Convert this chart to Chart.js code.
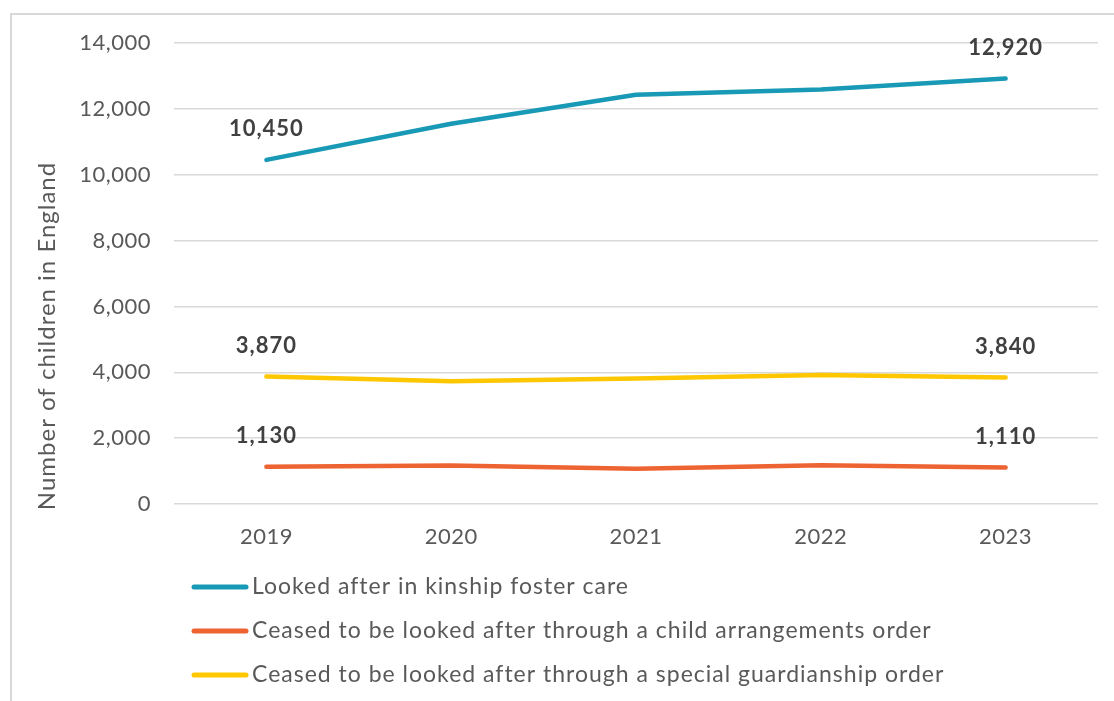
<!DOCTYPE html>
<html>
<head>
<meta charset="utf-8">
<script src="https://cdn.jsdelivr.net/npm/chart.js@4/dist/chart.umd.min.js"></script>
<style>
  html, body { margin: 0; padding: 0; background: #ffffff; }
  #wrap { width: 1114px; height: 701px; }
</style>
</head>
<body>
<div id="wrap"><canvas id="c" width="1114" height="701"></canvas></div>
<script>
// Children in England by kinship route, 2019–2023
const years = ['2019', '2020', '2021', '2022', '2023'];
const kinshipFosterCare = [10450, 11550, 12430, 12590, 12920];
const childArrangementsOrder = [1130, 1170, 1070, 1180, 1110];
const specialGuardianshipOrder = [3870, 3730, 3810, 3920, 3840];
const seriesNames = [
  'Looked after in kinship foster care',
  'Ceased to be looked after through a child arrangements order',
  'Ceased to be looked after through a special guardianship order'
];
const yTicks = [0, 2000, 4000, 6000, 8000, 10000, 12000, 14000];
const yTitle = 'Number of children in England';

const FONT = 'Lato, "Open Sans", sans-serif';
const GREY = '#595959';
const COLORS = ['#1899B6', '#EE6332', '#FFC700'];
const fmt = v => v.toLocaleString('en-GB');

// Frame around the chart (top and left edges visible); wider tracking for tick text
const framePlugin = {
  id: 'frame',
  beforeDraw(chart) {
    const ctx = chart.ctx;
    ctx.save();
    ctx.strokeStyle = '#d9d9d9';
    ctx.lineWidth = 2;
    ctx.beginPath();
    ctx.moveTo(11, chart.height);
    ctx.lineTo(11, 14);
    ctx.lineTo(chart.width, 14);
    ctx.stroke();
    ctx.restore();
    ctx.letterSpacing = '0.5px';
  }
};

// Value labels on first and last point of every series
const endLabels = {
  id: 'endLabels',
  afterDatasetsDraw(chart) {
    const ctx = chart.ctx;
    ctx.save();
    ctx.font = 'bold 22px ' + FONT;
    ctx.letterSpacing = '1px';
    ctx.fillStyle = '#404040';
    ctx.textAlign = 'center';
    ctx.textBaseline = 'middle';
    chart.data.datasets.forEach((ds, di) => {
      const meta = chart.getDatasetMeta(di);
      [0, ds.data.length - 1].forEach(i => {
        const pt = meta.data[i];
        ctx.fillText(fmt(ds.data[i]), pt.x, pt.y - 31);
      });
    });
    ctx.restore();
  }
};

// Y axis title and stacked legend below the axis
const extras = {
  id: 'extras',
  afterDraw(chart) {
    const ctx = chart.ctx;
    ctx.save();
    ctx.font = '24px ' + FONT;
    ctx.letterSpacing = '1px';
    ctx.fillStyle = GREY;
    ctx.textAlign = 'center';
    ctx.textBaseline = 'middle';
    ctx.translate(47, 336);
    ctx.rotate(-Math.PI / 2);
    ctx.fillText(yTitle, 0, 0);
    ctx.restore();

    ctx.save();
    const rows = [587, 631, 675];
    chart.data.datasets.forEach((ds, i) => {
      const y = rows[i];
      ctx.strokeStyle = ds.borderColor;
      ctx.lineWidth = 5;
      ctx.lineCap = 'round';
      ctx.beginPath();
      ctx.moveTo(194, y);
      ctx.lineTo(246, y);
      ctx.stroke();
      ctx.font = '23px ' + FONT;
      ctx.letterSpacing = '1px';
      ctx.fillStyle = GREY;
      ctx.textAlign = 'left';
      ctx.textBaseline = 'middle';
      ctx.fillText(ds.label, 252, y);
    });
    ctx.restore();
  }
};

const seriesData = [kinshipFosterCare, childArrangementsOrder, specialGuardianshipOrder];

new Chart(document.getElementById('c'), {
  type: 'line',
  data: {
    labels: years,
    datasets: seriesData.map((d, i) => ({
      label: seriesNames[i],
      data: d,
      borderColor: COLORS[i],
      backgroundColor: COLORS[i],
      borderWidth: 4.5,
      borderCapStyle: 'round',
      borderJoinStyle: 'round',
      pointRadius: 0,
      tension: 0
    }))
  },
  options: {
    responsive: false,
    animation: false,
    layout: { padding: { top: 43, right: 16, bottom: 0, left: 0 } },
    plugins: {
      legend: { display: false },
      tooltip: { enabled: false }
    },
    scales: {
      x: {
        offset: true,
        grid: { display: false },
        border: { display: false },
        ticks: { color: GREY, font: { family: FONT, size: 22 }, padding: 12 },
        afterFit(scale) { scale.height = 197; }
      },
      y: {
        min: 0,
        max: 14000,
        afterBuildTicks(scale) { scale.ticks = yTicks.map(v => ({ value: v })); },
        grid: { color: '#d9d9d9', lineWidth: 1.5, drawTicks: false },
        border: { display: false },
        ticks: {
          color: GREY,
          font: { family: FONT, size: 22 },
          padding: 23,
          callback: v => fmt(v)
        },
        afterFit(scale) { scale.width = 174; }
      }
    }
  },
  plugins: [framePlugin, endLabels, extras]
});
</script>
</body>
</html>
